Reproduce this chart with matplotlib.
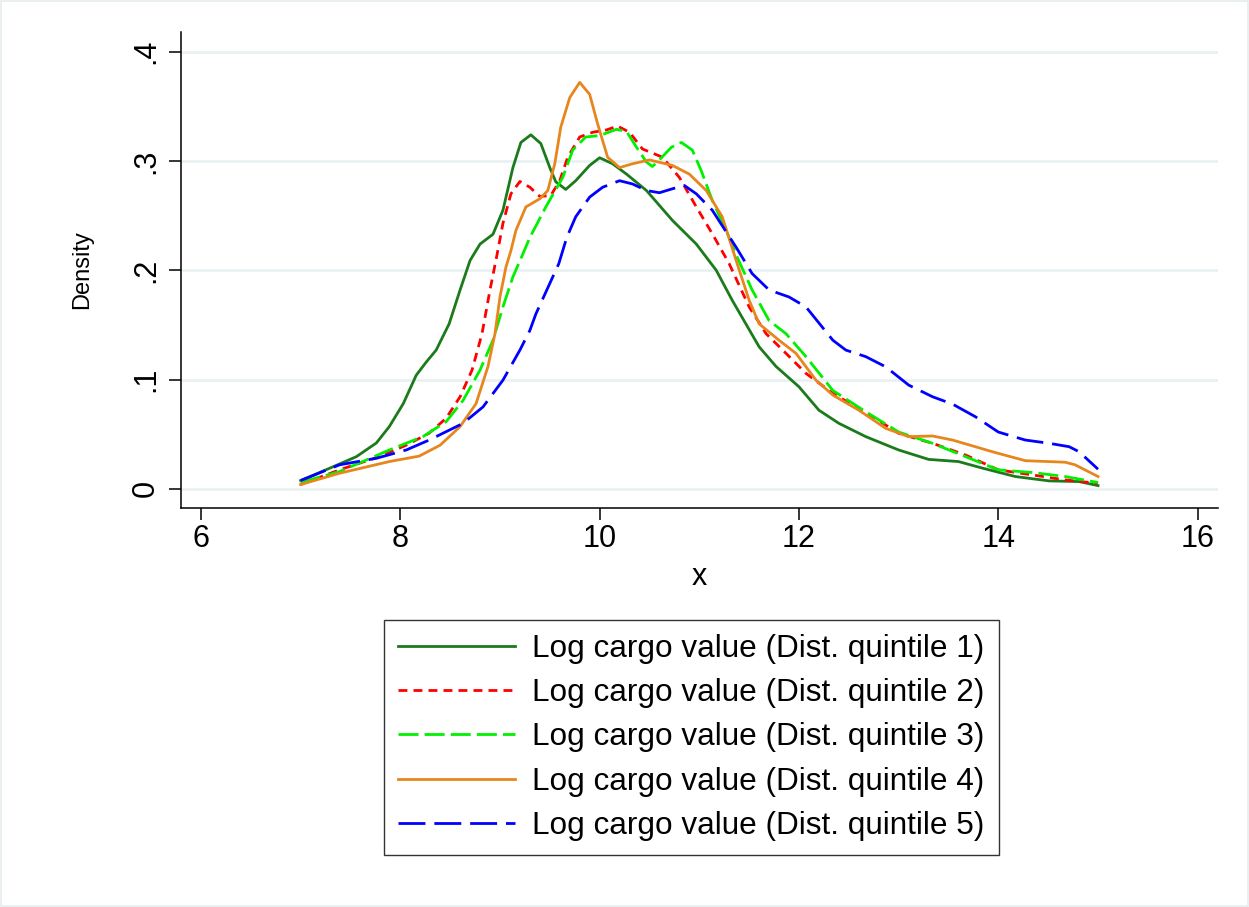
import matplotlib
matplotlib.use("Agg")
import matplotlib.pyplot as plt
from matplotlib.lines import Line2D
from matplotlib.patches import Rectangle

plt.rcParams["font.family"] = ["Liberation Sans", "DejaVu Sans"]

# ---------------------------
# data
# ---------------------------
q1_x = [7.0, 7.33, 7.56, 7.76, 7.89, 8.03, 8.16, 8.26, 8.36, 8.49, 8.60, 8.70, 8.80,
        8.93, 9.03, 9.13, 9.21, 9.31, 9.41, 9.50, 9.56, 9.66, 9.76, 9.90, 10.0, 10.13,
        10.27, 10.47, 10.73, 10.97, 11.17, 11.33, 11.60, 11.77, 12.0, 12.20, 12.40,
        12.67, 13.0, 13.30, 13.60, 13.84, 14.17, 14.51, 14.81, 15.0]
q1_y = [0.0076, 0.0204, 0.0295, 0.042, 0.057, 0.078, 0.104, 0.116, 0.127, 0.151, 0.182,
        0.209, 0.224, 0.233, 0.255, 0.294, 0.317, 0.324, 0.316, 0.294, 0.281, 0.274,
        0.282, 0.296, 0.303, 0.2975, 0.288, 0.273, 0.2457, 0.224, 0.200, 0.1726, 0.130,
        0.112, 0.0934, 0.072, 0.060, 0.0478, 0.0356, 0.027, 0.025, 0.019, 0.0113,
        0.0073, 0.0067, 0.003]

q2_x = [7.0, 7.39, 7.79, 8.06, 8.29, 8.46, 8.60, 8.72, 8.82, 8.90, 8.97, 9.03, 9.11,
        9.20, 9.30, 9.40, 9.51, 9.60, 9.68, 9.80, 9.93, 10.07, 10.18, 10.30, 10.43,
        10.63, 10.80, 10.97, 11.13, 11.30, 11.50, 11.67, 11.87, 12.07, 12.34, 12.54,
        12.74, 13.0, 13.34, 13.67, 14.0, 14.34, 14.67, 15.0]
q2_y = [0.004, 0.0174, 0.0295, 0.040, 0.051, 0.0646, 0.0843, 0.1087, 0.142, 0.182,
        0.214, 0.243, 0.270, 0.2813, 0.276, 0.2676, 0.2685, 0.282, 0.3035, 0.322,
        0.3263, 0.3285, 0.332, 0.3263, 0.311, 0.3035, 0.285, 0.258, 0.2335, 0.206,
        0.1665, 0.142, 0.124, 0.1057, 0.0874, 0.0767, 0.066, 0.0508, 0.0417, 0.031,
        0.0174, 0.0128, 0.0082, 0.005]

q3_x = [7.0, 7.39, 7.89, 8.23, 8.46, 8.63, 8.80, 8.93, 9.03, 9.13, 9.23, 9.30, 9.46,
        9.63, 9.73, 9.86, 10.0, 10.17, 10.27, 10.37, 10.47, 10.53, 10.61, 10.72, 10.82,
        10.93, 11.02, 11.13, 11.27, 11.38, 11.53, 11.70, 11.87, 12.07, 12.34, 12.67,
        13.0, 13.34, 13.67, 14.0, 14.34, 14.67, 15.0]
q3_y = [0.006, 0.0158, 0.0356, 0.048, 0.0615, 0.081, 0.1087, 0.136, 0.1665, 0.194,
        0.215, 0.230, 0.258, 0.285, 0.310, 0.322, 0.3233, 0.329, 0.327, 0.3126, 0.299,
        0.295, 0.302, 0.3126, 0.317, 0.310, 0.291, 0.264, 0.2365, 0.212, 0.182, 0.154,
        0.142, 0.121, 0.090, 0.0706, 0.052, 0.0417, 0.0295, 0.0174, 0.015, 0.0113,
        0.0058]

q4_x = [7.0, 7.39, 7.89, 8.19, 8.40, 8.60, 8.76, 8.88, 8.95, 9.0, 9.06, 9.11, 9.16,
        9.26, 9.40, 9.48, 9.55, 9.61, 9.70, 9.80, 9.90, 9.98, 10.08, 10.20, 10.33,
        10.50, 10.73, 10.90, 11.07, 11.23, 11.38, 11.50, 11.60, 11.80, 11.97, 12.17,
        12.34, 12.60, 12.87, 13.10, 13.34, 13.54, 13.94, 14.27, 14.67, 14.77, 15.0]
q4_y = [0.004, 0.0143, 0.025, 0.030, 0.040, 0.057, 0.078, 0.112, 0.142, 0.1756, 0.203,
        0.218, 0.2365, 0.258, 0.2655, 0.273, 0.2975, 0.331, 0.358, 0.372, 0.361, 0.334,
        0.3035, 0.294, 0.2975, 0.301, 0.296, 0.288, 0.273, 0.249, 0.206, 0.1726, 0.151,
        0.136, 0.124, 0.0995, 0.0858, 0.072, 0.0554, 0.0478, 0.0484, 0.0447, 0.034,
        0.0258, 0.0244, 0.022, 0.0113]

q5_x = [7.0, 7.39, 7.76, 8.06, 8.29, 8.63, 8.83, 9.03, 9.20, 9.30, 9.36, 9.59, 9.67,
        9.76, 9.90, 10.03, 10.20, 10.33, 10.47, 10.60, 10.73, 10.85, 10.97, 11.13,
        11.37, 11.53, 11.70, 11.90, 12.07, 12.34, 12.47, 12.67, 12.87, 13.10, 13.34,
        13.54, 13.77, 14.0, 14.27, 14.51, 14.71, 14.81, 15.0]
q5_y = [0.0076, 0.022, 0.028, 0.0356, 0.0447, 0.060, 0.075, 0.0995, 0.127, 0.145,
        0.160, 0.206, 0.230, 0.249, 0.267, 0.276, 0.282, 0.279, 0.273, 0.271, 0.2746,
        0.2776, 0.270, 0.255, 0.221, 0.197, 0.182, 0.1756, 0.1665, 0.136, 0.127, 0.121,
        0.1117, 0.095, 0.0843, 0.0776, 0.066, 0.052, 0.0447, 0.0417, 0.0386, 0.034,
        0.018]

labels = [f"Log cargo value (Dist. quintile {i})" for i in range(1, 6)]
x_ticks = [6, 8, 10, 12, 14, 16]
y_ticks = [0, 0.1, 0.2, 0.3, 0.4]
y_ticklabels = ["0", ".1", ".2", ".3", ".4"]

# ---------------------------
# styles
# ---------------------------
lw = 2.0
styles = [
    dict(color="#1b7b1b", linestyle="-"),
    dict(color="#ff0000", linestyle=(0, (3.2, 2.2))),
    dict(color="#00f000", linestyle=(0, (7.2, 2.2))),
    dict(color="#e8861e", linestyle="-"),
    dict(color="#0000ff", linestyle=(0, (9.7, 3.2))),
]
grid_color = "#eaf1f3"

fig = plt.figure(figsize=(12.49, 9.07), dpi=100)
fig.patches.append(Rectangle((0.001, 0.001), 0.998, 0.998, transform=fig.transFigure,
                             fill=False, edgecolor="#e6ecee", linewidth=1.2))

ax = fig.add_axes([0.1449, 0.4399, 0.8300, 0.5251])

series = [(q1_x, q1_y), (q2_x, q2_y), (q3_x, q3_y), (q4_x, q4_y), (q5_x, q5_y)]
for (xs, ys), st, lab in zip(series, styles, labels):
    ax.plot(xs, ys, linewidth=lw, label=lab, solid_joinstyle="round",
            dash_joinstyle="round", **st)

ax.set_xlim(5.8, 16.2)
ax.set_ylim(-0.0175, 0.4183)

ax.set_xticks(x_ticks)
ax.set_yticks(y_ticks)
ax.set_yticklabels(y_ticklabels, rotation=90, va="center")

for y in y_ticks:
    ax.axhline(y, color=grid_color, linewidth=2.0, zorder=0)

for side in ["top", "right"]:
    ax.spines[side].set_visible(False)
for side in ["left", "bottom"]:
    ax.spines[side].set_linewidth(1.1)

ax.tick_params(axis="both", direction="out", length=8.5, width=1.1, labelsize=22)
ax.tick_params(axis="y", pad=6)
ax.tick_params(axis="x", pad=3)

ax.set_xlabel("x", fontsize=22, labelpad=6)
ax.set_ylabel("Density", fontsize=17, labelpad=27)

# legend box, anchored by its lower-left corner
handles = [Line2D([0], [0], linewidth=lw, **st) for st in styles]
leg = fig.legend(
    handles,
    labels,
    loc="lower left",
    bbox_to_anchor=(384 / 1249, 52 / 907),
    fontsize=22.7,
    frameon=True,
    fancybox=False,
    edgecolor="black",
    handlelength=3.7,
    handletextpad=0.55,
    labelspacing=0.45,
    borderpad=0.45,
    borderaxespad=0.0,
)
leg.get_frame().set_linewidth(1.0)

fig.savefig("out.png", dpi=100)
